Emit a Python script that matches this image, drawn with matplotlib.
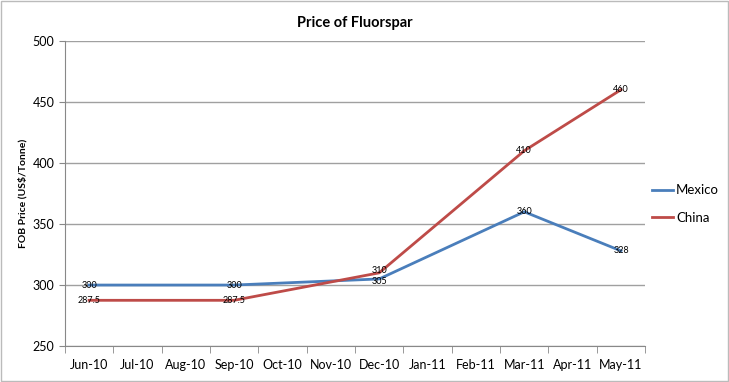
import matplotlib
matplotlib.use("Agg")
import matplotlib.pyplot as plt
from matplotlib.patches import Rectangle

months = ["Jun-10", "Jul-10", "Aug-10", "Sep-10", "Oct-10", "Nov-10",
          "Dec-10", "Jan-11", "Feb-11", "Mar-11", "Apr-11", "May-11"]
data_months = ["Jun-10", "Sep-10", "Dec-10", "Mar-11", "May-11"]
mexico = [300, 300, 305, 360, 328]
china = [287.5, 287.5, 310, 410, 460]
mexico_labels = ["300", "300", "305", "360", "328"]
china_labels = ["287.5", "287.5", "310", "410", "460"]

plt.rcParams['font.family'] = ['Lato', 'DejaVu Sans']

fig = plt.figure(figsize=(7.29, 3.82), dpi=100)
ax = fig.add_axes([0.089, 0.094, 0.796, 0.799])

xi = [months.index(m) for m in data_months]
ax.plot(xi, mexico, color="#4a7ebb", lw=2.0, label="Mexico", zorder=3)
ax.plot(xi, china, color="#be4b48", lw=2.0, label="China", zorder=3)

for x, v, t in zip(xi, mexico, mexico_labels):
    ax.annotate(t, (x, v), xytext=(0, -2 if t == "305" else 0), textcoords="offset points",
                ha="center", va="center", fontsize=6.5, zorder=4)
for x, v, t in zip(xi, china, china_labels):
    ax.annotate(t, (x, v), xytext=(0, 2 if t == "310" else 0), textcoords="offset points",
                ha="center", va="center", fontsize=6.5, zorder=4)

ax.set_xlim(-0.5, 11.5)
ax.set_ylim(250, 500)
ax.set_yticks([250, 300, 350, 400, 450, 500])
ax.set_xticks(range(12))
ax.set_xticklabels(months, fontsize=9)
ax.set_xticks([i - 0.5 for i in range(13)], minor=True)
ax.tick_params(axis="x", which="major", length=0, pad=9)
ax.tick_params(axis="x", which="minor", length=5, color="#888888", direction="out")
ax.tick_params(axis="y", length=4, color="#888888", labelsize=9)
ax.grid(axis="y", color="#a0a0a0", lw=1.0)
ax.set_axisbelow(True)
for s in ["top", "right"]:
    ax.spines[s].set_visible(False)
for s in ["left", "bottom"]:
    ax.spines[s].set_color("#888888")

ax.set_ylabel("FOB Price (US$/Tonne)", fontsize=7.5, fontweight="bold", labelpad=4)
ax.set_title("Price of Fluorspar", fontsize=10.5, fontweight="bold", pad=10)

ax.legend(loc="center left", bbox_to_anchor=(1.012, 0.465), frameon=False,
          fontsize=9.5, handlelength=1.6, handletextpad=0.2, labelspacing=1.2,
          borderpad=0, borderaxespad=0)

fig.patches.append(Rectangle((0.002, 0.003), 0.996, 0.994, transform=fig.transFigure,
                             fill=False, edgecolor="#bbbbbb", lw=1))
fig.savefig("out.png", dpi=100)
